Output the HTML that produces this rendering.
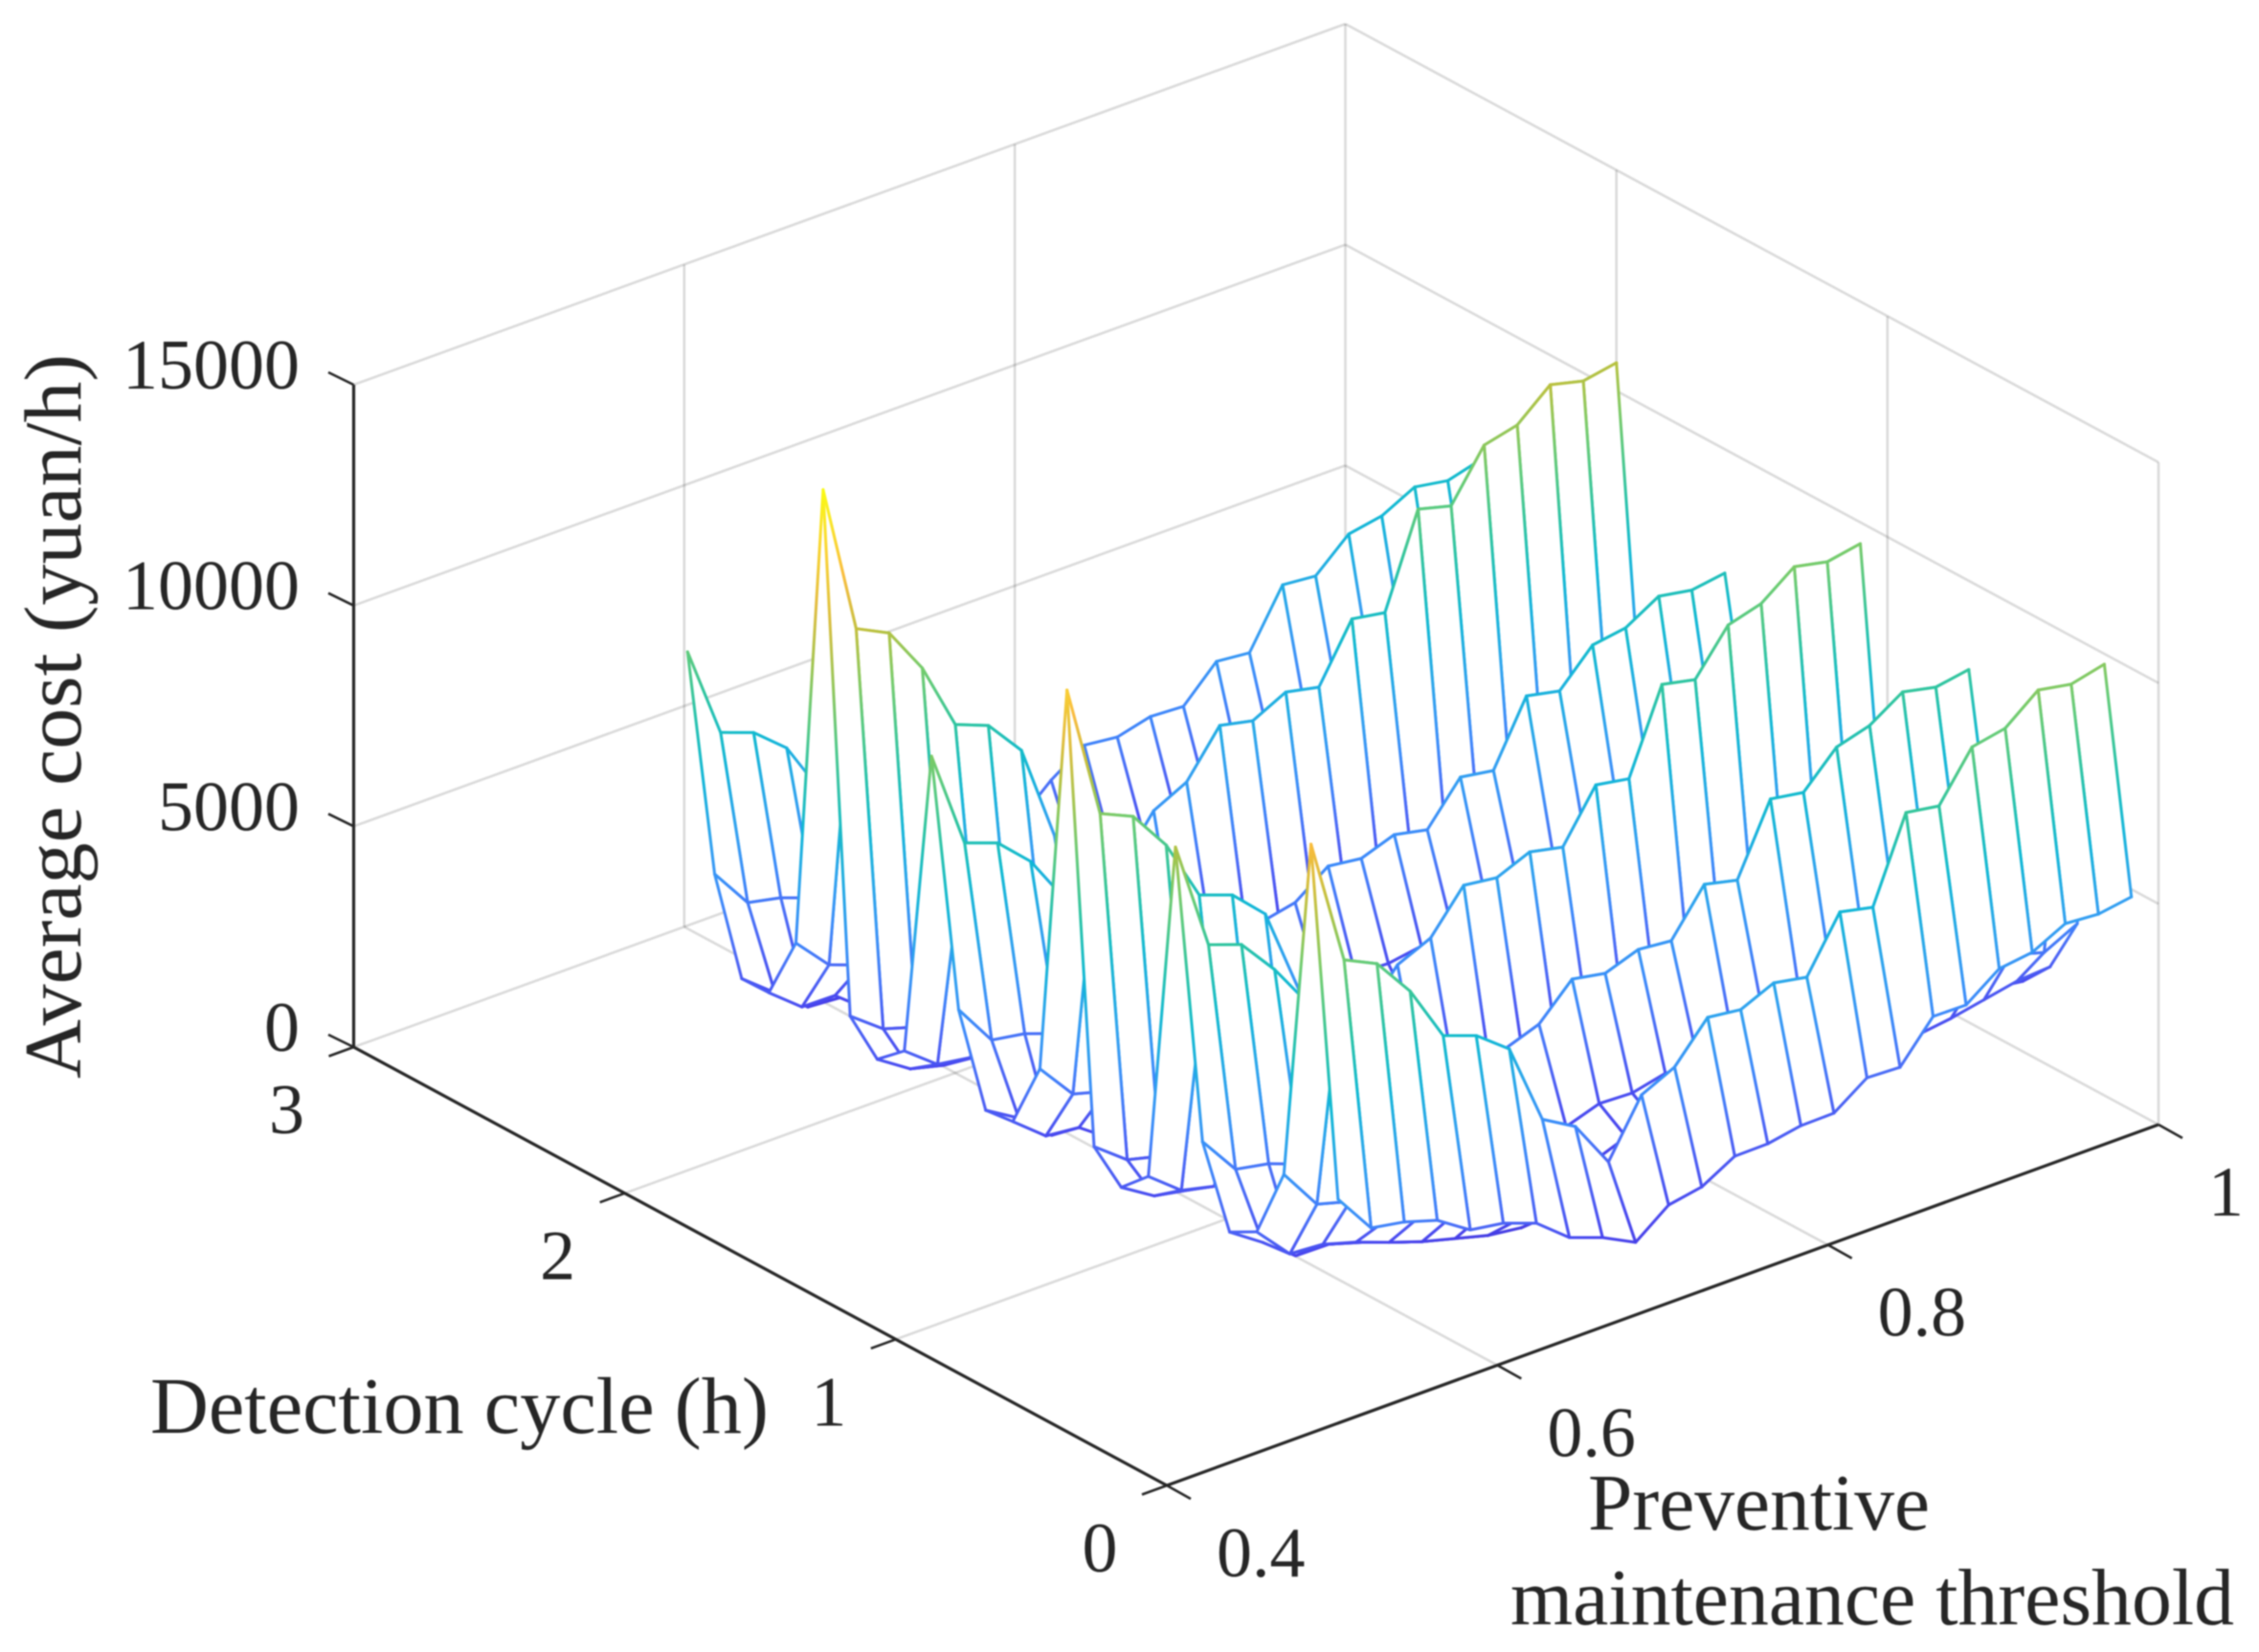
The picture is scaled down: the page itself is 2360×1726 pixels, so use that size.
<!DOCTYPE html>
<html lang="en">
<head>
<meta charset="utf-8">
<title>Average cost surface</title>
<style>
html,body{margin:0;padding:0;background:#fff;}
#chart{display:block;width:2360px;height:1726px;background:#fff;filter:blur(0.8px);}
text{font-family:"Liberation Serif",serif;fill:#262626;}
</style>
</head>
<body>
<svg id="chart" xmlns="http://www.w3.org/2000/svg" width="2360" height="1726" viewBox="0 0 2360 1726">
<defs id="gradient-defs"></defs>
<g id="grid"></g>
<g id="surface"></g>
<g id="axes"></g>
<g id="tick-text"></g>
<text x="0" y="0" font-size="85" transform="translate(84,1127) rotate(-90)" textLength="757" lengthAdjust="spacingAndGlyphs">Average cost (yuan/h)</text>
<text x="157" y="1497" font-size="84" textLength="646" lengthAdjust="spacingAndGlyphs">Detection cycle (h)</text>
<text x="1659" y="1598" font-size="84" textLength="357" lengthAdjust="spacingAndGlyphs">Preventive</text>
<text x="1578" y="1697" font-size="84" textLength="756" lengthAdjust="spacingAndGlyphs">maintenance threshold</text>
</svg>
<script>
// ---- data -----------------------------------------------------------
const thresholds = [0.52,0.54,0.56,0.58,0.60,0.62,0.64,0.66,0.68,0.70,0.72,0.74,0.76,0.78,0.80,0.82,0.84,0.86,0.88,0.90,0.92,0.94,0.96,0.98,1.00];
const cycles = [0.1,0.2,0.3,0.4,0.5,0.6,0.7,0.8,0.9,1.0,1.1,1.2,1.3,1.4,1.5,1.6,1.7,1.8,1.9,2.0,2.1,2.2,2.3,2.4,2.5];

const xTicks = [0.4,0.6,0.8,1];
const yTicks = [0,1,2,3];
const zTicks = [0,5000,10000,15000];
const xTickLabels = ["0.4","0.6","0.8","1"];
const yTickLabels = ["0","1","2","3"];
const zTickLabels = ["0","5000","10000","15000"];

const costCycle01 = [4516,3594,3458,3222,2732,2612,2339,1741,1470,1088,1661,1799,2222,2231,2370,2380,2909,2875,3753,3740,4290,4388,4765,4709,4826];
const costCycle02 = [12227,9333,8974,8081,6803,6530,5954,4089,3653,2578,3824,4180,5034,4937,5270,5127,6331,6166,8039,7917,8980,9130,9723,9583,9765];
const costCycle03 = [4418,3472,3257,2510,2300,2050,1850,1450,1300,1250,1500,1650,1850,1800,1900,1850,2300,2250,2800,2750,3100,3200,3400,3180,3556];
const costCycle04 = [2786,2016,1960,1734,1459,1200,1000,800,700,750,900,1000,1150,1130,1200,1180,1350,1320,1600,1570,1800,1900,2050,2200,2250];
const costCycle05 = [2450,1945,1369,1357,1127,856,757,548,560,700,850,1050,1333,1300,1350,1320,1450,1430,1600,1580,1650,1680,1720,1700,1593];
const costCycle06 = [4163,3267,3120,2845,2550,2400,2200,1500,1400,1050,1400,1511,1757,1726,1900,1850,2300,2230,2900,2850,3170,3270,3480,3410,3460];
const costCycle07 = [10508,8024,7753,6916,5884,5500,5000,3400,3100,2300,3230,3499,4247,4104,4373,4297,5303,5127,6693,6567,7323,7538,8026,7861,7989];
const costCycle08 = [2717,2131,1950,1780,1480,1410,1270,870,780,620,790,870,1060,1040,1100,1070,1310,1280,1680,1640,1840,1880,2000,1970,2000];
const costCycle09 = [2140,1674,1530,1400,1200,1150,1030,700,640,500,650,710,860,840,900,870,1070,1040,1360,1330,1500,1530,1630,1600,1620];
const costCycle10 = [2730,2159,1969,1800,1550,1480,1330,900,820,640,830,910,1110,1090,1160,1120,1370,1340,1750,1720,1930,1970,2100,2060,2090];
const costCycle11 = [12739,9669,9333,8410,7009,6736,6031,4067,3700,2900,3792,4126,5047,4947,5260,5095,6233,6098,7963,7800,8763,8976,9539,9377,9515];
const costCycle12 = [3831,2987,2777,2400,2000,1880,1780,1350,1240,980,1150,1220,1420,1380,1480,1420,1760,1720,2240,2180,2470,2510,2670,2620,2660];
const costCycle13 = [2307,1708,1625,1100,1020,970,900,720,660,540,620,660,750,730,780,750,920,900,1150,1120,1250,1280,1350,1330,1350];
const costCycle14 = [2229,1780,1119,1084,1000,950,880,700,640,520,600,640,720,700,750,720,880,860,1100,1080,1200,1230,1300,1280,1300];
const costCycle15 = [4175,3215,3089,2818,2400,2250,2150,1650,1500,1200,1400,1480,1720,1680,1800,1720,2130,2080,2720,2650,3000,3050,3250,3190,3240];
const costCycle16 = [9589,7350,7078,6387,5290,5000,4800,3600,3300,2600,3114,3274,3826,3727,3996,3833,4752,4631,6049,5886,6654,6771,7215,7081,7196];
const costCycle17 = [2580,2005,1886,1700,1400,1330,1220,900,810,660,850,930,1100,1060,1140,1110,1360,1330,1740,1700,1900,1940,2060,2030,2060];
const costCycle18 = [2062,1572,1379,1300,1150,1080,980,750,680,540,700,760,900,870,930,910,1100,1070,1400,1370,1540,1570,1670,1640,1660];
const costCycle19 = [2706,2146,1915,1800,1600,1500,1350,1000,900,700,950,1050,1250,1200,1300,1260,1550,1510,1970,1930,2170,2210,2350,2310,2340];
const costCycle20 = [14298,10879,10508,9442,7890,7597,6760,4557,4100,3300,4303,4681,5689,5524,5901,5739,7013,6883,8954,8754,9860,10042,10682,10495,10634];
const costCycle21 = [3700,2935,2662,2300,1900,1800,1700,1250,1100,900,950,1150,1350,1320,1400,1370,1650,1620,2100,2060,2320,2370,2500,2450,2530];
const costCycle22 = [2246,1650,1637,1050,1000,950,880,720,640,540,560,620,700,690,720,710,850,830,1040,1020,1120,1160,1220,1190,1230];
const costCycle23 = [2231,1644,1045,990,950,900,850,700,620,520,540,600,680,670,700,690,820,800,1000,980,1080,1120,1180,1150,1190];
const costCycle24 = [4271,3350,3187,2913,2400,2250,2100,1500,1300,1050,1100,1400,1600,1560,1650,1620,1950,1920,2500,2450,2750,2800,2980,2920,3000];
const costCycle25 = [8972,6872,6599,5977,4761,4500,4300,3100,2800,2300,2400,3070,3588,3499,3692,3649,4395,4319,5585,5513,6190,6328,6712,6584,6790];

const costRows = [costCycle01,costCycle02,costCycle03,costCycle04,costCycle05,costCycle06,costCycle07,costCycle08,costCycle09,costCycle10,costCycle11,costCycle12,costCycle13,costCycle14,costCycle15,costCycle16,costCycle17,costCycle18,costCycle19,costCycle20,costCycle21,costCycle22,costCycle23,costCycle24,costCycle25];

// ---- axis functions ---------------------------------------------------
const X_MIN = 0.4, X_MAX = 1, Y_MIN = 0, Y_MAX = 3, Z_MIN = 0, Z_MAX = 15000;
function project(x, y, z) {
  const u = (x - 0.4) / 0.6, v = y / 3, w = z / 15000;
  return [1219 + 1036 * u - 849.5 * v, 1552 - 377 * u - 458 * v - 692 * w];
}

// ---- colour map -------------------------------------------------------
const colorStops = [
  [0.00,[64,52,214]],[0.10,[72,68,238]],[0.20,[74,106,246]],[0.26,[60,136,250]],[0.34,[48,160,240]],
  [0.45,[14,184,212]],[0.55,[44,196,160]],[0.65,[108,204,112]],[0.75,[188,192,60]],
  [0.85,[250,186,61]],[0.95,[249,232,38]],[1.00,[250,250,20]]
];
const zColorMax = 14300;
function colorFor(z) {
  const t = Math.max(0, Math.min(1, z / zColorMax));
  for (let k = 1; k < colorStops.length; k++) {
    if (t <= colorStops[k][0]) {
      const a = colorStops[k - 1], b = colorStops[k];
      const f = (t - a[0]) / (b[0] - a[0]);
      const c = a[1].map((v, n) => Math.round(v + (b[1][n] - v) * f));
      return "rgb(" + c.join(",") + ")";
    }
  }
  return "rgb(250,250,20)";
}

const NS = "http://www.w3.org/2000/svg";
function make(tag, attrs, parent) {
  const el = document.createElementNS(NS, tag);
  for (const k in attrs) el.setAttribute(k, attrs[k]);
  if (parent) parent.appendChild(el);
  return el;
}

// ---- grid -------------------------------------------------------------
const gridGroup = document.getElementById("grid");
function gridLine(a, b) {
  const el = make("line", {x1:a[0], y1:a[1], x2:b[0], y2:b[1], stroke:"#262626", "stroke-opacity":0.17, "stroke-width":2.6}, gridGroup);
  
  
}
xTicks.forEach(function (x) {
  if (x > X_MIN && x < X_MAX) gridLine(project(x, Y_MIN, 0), project(x, Y_MAX, 0));
  if (x > X_MIN) gridLine(project(x, Y_MAX, Z_MIN), project(x, Y_MAX, Z_MAX));
});
yTicks.forEach(function (y) {
  if (y > Y_MIN && y < Y_MAX) gridLine(project(X_MIN, y, 0), project(X_MAX, y, 0));
  if (y < Y_MAX) gridLine(project(X_MAX, y, Z_MIN), project(X_MAX, y, Z_MAX));
});
zTicks.forEach(function (z) {
  gridLine(project(X_MIN, Y_MAX, z), project(X_MAX, Y_MAX, z));
  gridLine(project(X_MAX, Y_MAX, z), project(X_MAX, Y_MIN, z));
});

// ---- surface ----------------------------------------------------------
const surfaceGroup = document.getElementById("surface");
const defsEl = document.getElementById("gradient-defs");
const gradientCache = {};
function strokeFor(key, a, b, za, zb) {
  if (Math.abs(za - zb) < 120) return colorFor((za + zb) / 2);
  if (gradientCache[key]) return gradientCache[key];
  const id = "g" + key;
  const grad = make("linearGradient", {id:id, gradientUnits:"userSpaceOnUse", x1:a[0], y1:a[1], x2:b[0], y2:b[1]}, defsEl);
  const n = Math.min(8, Math.ceil(Math.abs(za - zb) / 900) + 1);
  for (let s = 0; s <= n; s++) {
    const f = s / n;
    make("stop", {offset:f, "stop-color":colorFor(za + (zb - za) * f)}, grad);
  }
  gradientCache[key] = "url(#" + id + ")";
  return gradientCache[key];
}
function edge(key, a, b, za, zb) {
  const el = make("line", {x1:a[0].toFixed(1), y1:a[1].toFixed(1), x2:b[0].toFixed(1), y2:b[1].toFixed(1), stroke:strokeFor(key, a, b, za, zb), "stroke-width":3, "stroke-linecap":"round"}, surfaceGroup);
  
  
}
for (let i = cycles.length - 2; i >= 0; i--) {
  for (let j = thresholds.length - 2; j >= 0; j--) {
    const z00 = costRows[i][j], z01 = costRows[i][j + 1], z10 = costRows[i + 1][j], z11 = costRows[i + 1][j + 1];
    const p00 = project(thresholds[j], cycles[i], z00);
    const p01 = project(thresholds[j + 1], cycles[i], z01);
    const p10 = project(thresholds[j], cycles[i + 1], z10);
    const p11 = project(thresholds[j + 1], cycles[i + 1], z11);
    const face = make("polygon", {points:[p00,p01,p11,p10].map(function (p) { return p[0].toFixed(1) + "," + p[1].toFixed(1); }).join(" "), fill:"#fff", stroke:"none"}, surfaceGroup);
    
    
    edge("h" + (i + 1) + "_" + j, p10, p11, z10, z11);
    edge("v" + i + "_" + (j + 1), p01, p11, z01, z11);
    edge("h" + i + "_" + j, p00, p01, z00, z01);
    edge("v" + i + "_" + j, p00, p10, z00, z10);
  }
}

// ---- axes and ticks ---------------------------------------------------
const axesGroup = document.getElementById("axes");
function axisLine(a, b, width, name) {
  const el = make("line", {x1:a[0], y1:a[1], x2:b[0], y2:b[1], stroke:"#262626", "stroke-width":width}, axesGroup);
  
  
}
axisLine(project(X_MIN, Y_MAX, Z_MIN), project(X_MIN, Y_MAX, Z_MAX), 3.2, 'z-axis-line');
axisLine(project(X_MIN, Y_MIN, 0), project(X_MIN, Y_MAX, 0), 3.2, 'y-axis-line');
axisLine(project(X_MIN, Y_MIN, 0), project(X_MAX, Y_MIN, 0), 3.2, 'x-axis-line');
xTicks.forEach(function (x) {
  const p = project(x, Y_MIN, 0);
  axisLine(p, [p[0] + 25, p[1] + 14], 2.6, 'x-axis-tick');
});
yTicks.forEach(function (y) {
  const p = project(X_MIN, y, 0);
  axisLine(p, [p[0] - 26, p[1] + 9.5], 2.6, 'y-axis-tick');
});
zTicks.forEach(function (z) {
  const p = project(X_MIN, Y_MAX, z);
  axisLine(p, [p[0] - 26.5, p[1] - 13], 2.6, 'z-axis-tick');
});

// ---- tick labels ------------------------------------------------------
const tickTextGroup = document.getElementById("tick-text");
function tickLabel(text, x, y, anchor, name) {
  const el = make("text", {x:x, y:y, "text-anchor":anchor, "font-size":74}, tickTextGroup);
  el.textContent = text;
  
  
}
zTicks.forEach(function (z, k) {
  const p = project(X_MIN, Y_MAX, z);
  tickLabel(zTickLabels[k], 313, p[1] + 4, "end", 'z-tick-label');
});
yTicks.forEach(function (y, k) {
  const p = project(X_MIN, y, 0);
  tickLabel(yTickLabels[k], p[0] - 70, p[1] + 90, "middle", 'y-tick-label');
});
xTicks.forEach(function (x, k) {
  const p = project(x, Y_MIN, 0);
  tickLabel(xTickLabels[k], p[0] + 52, p[1] + 95, "start", 'x-tick-label');
});
</script>
</body>
</html>
